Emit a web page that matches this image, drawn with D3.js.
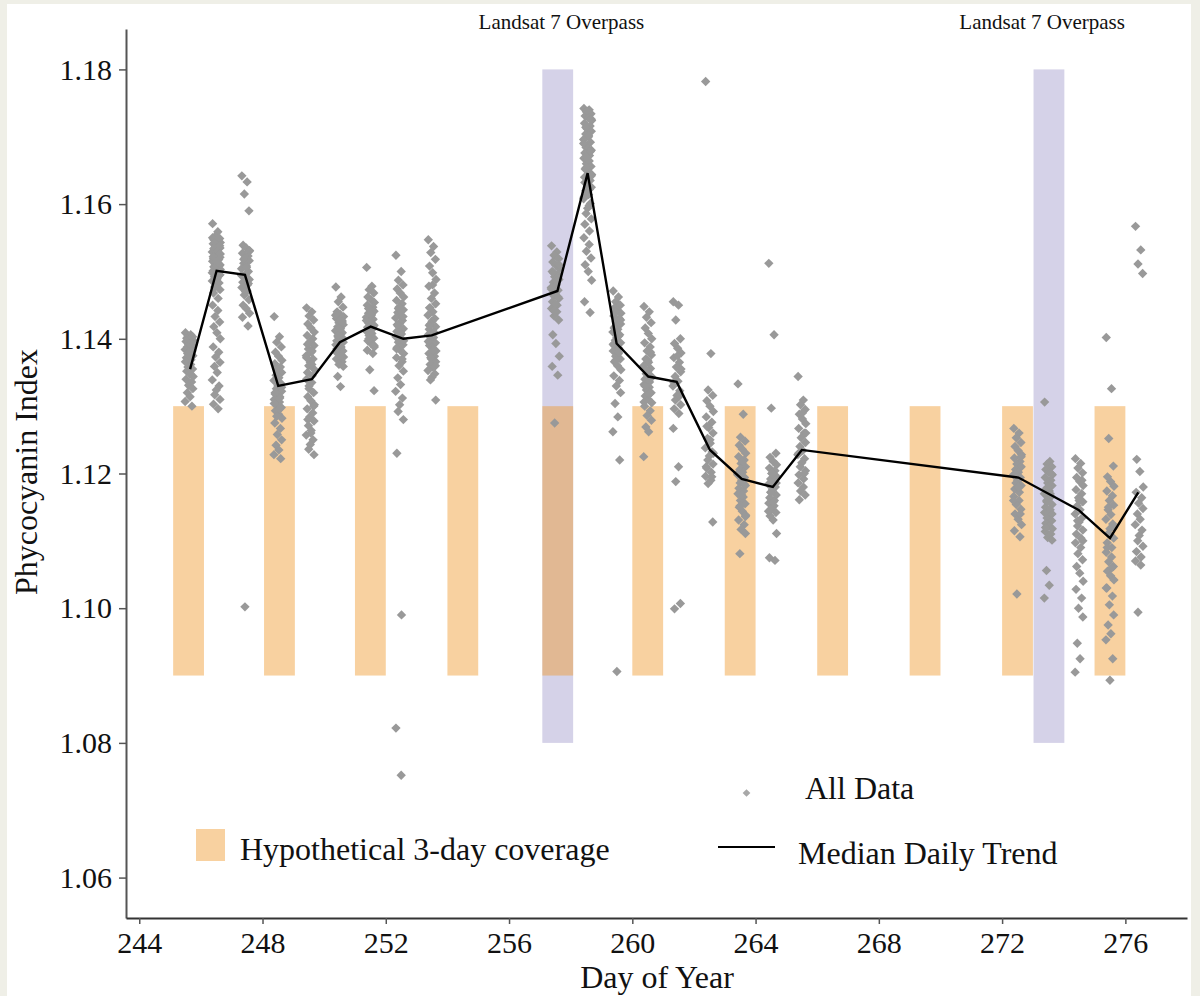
<!DOCTYPE html>
<html>
<head>
<meta charset="utf-8">
<script src="https://cdn.jsdelivr.net/npm/d3@7"></script>
<style>
  html, body { margin: 0; padding: 0; background: #efefe7; }
  svg { display: block; }
  text { font-family: "Liberation Serif", "Times New Roman", serif; fill: #111; }
</style>
</head>
<body>
<svg id="chart" width="1200" height="996"></svg>
<script>
// ---------------- DATA ----------------
const xTicks = [244, 248, 252, 256, 260, 264, 268, 272, 276];
const yTicks = [1.06, 1.08, 1.10, 1.12, 1.14, 1.16, 1.18];

// Hypothetical 3-day coverage windows (start day, 1 day long)
const coverageStarts = [245.1, 248.05, 251, 254, 257.08, 260, 263, 266, 269, 272, 275];
const coverageRange = [1.09, 1.13];

// Landsat 7 overpass days
const overpassStarts = [257.08, 273.02];
const overpassRange = [1.08, 1.18];
const overpassLabelDays = [257.7, 273.3];
const overpassLabel = "Landsat 7 Overpass";

// Median daily trend
const trendDays = [245.65, 246.51, 247.43, 248.51, 249.6, 250.51, 251.51, 252.57, 253.49,
                   257.57, 258.55, 259.49, 260.52, 261.44, 262.52, 263.55, 264.56, 265.5,
                   272.53, 274.48, 275.5, 276.42];
const trendValues = [1.1355, 1.1501, 1.1495, 1.1330, 1.1340, 1.1395, 1.1418, 1.1400, 1.1405,
                     1.1471, 1.1646, 1.1393, 1.1344, 1.1336, 1.1235, 1.1192, 1.1180, 1.1235,
                     1.1194, 1.1146, 1.1104, 1.1172];

// All data: acquisition day (cluster centre) and pixel values
const clusterDays = [245.62, 246.5, 247.45, 248.5, 249.55, 250.5, 251.5, 252.45, 253.5,
                     257.5, 258.55, 259.5, 260.5, 261.45, 262.5, 263.55, 264.55, 265.5,
                     272.5, 273.5, 274.5, 275.5, 276.45];
const clusterValues = [
  [1.1409,1.1406,1.1404,1.1403,1.1401,1.1399,1.1398,1.1396,1.1394,1.1392,1.1390,1.1388,1.1386,1.1384,1.1382,1.1380,1.1378,1.1375,1.1372,1.1369,1.1366,1.1362,1.1358,1.1355,1.1352,1.1348,1.1344,1.1340,1.1336,1.1331,1.1326,1.1320,1.1314,1.1307,1.1300],
  [1.1571,1.1559,1.1552,1.1549,1.1547,1.1545,1.1543,1.1541,1.1539,1.1537,1.1535,1.1533,1.1531,1.1529,1.1527,1.1525,1.1523,1.1521,1.1519,1.1517,1.1515,1.1513,1.1511,1.1509,1.1507,1.1505,1.1503,1.1501,1.1499,1.1497,1.1495,1.1492,1.1489,1.1486,1.1483,1.1480,1.1477,1.1473,1.1468,1.1460,1.1450,1.1442,1.1433,1.1425,1.1418,1.1409,1.1400,1.1388,1.1380,1.1373,1.1365,1.1359,1.1350,1.1339,1.1330,1.1324,1.1317,1.1310,1.1303,1.1296,
   1.1550,1.1546,1.1542,1.1538,1.1534,1.1530,1.1526,1.1522,1.1518,1.1514,1.1510,1.1506,1.1502,1.1498,1.1494,1.1490],
  [1.1642,1.1633,1.1615,1.1590,1.1539,1.1535,1.1531,1.1527,1.1523,1.1520,1.1516,1.1512,1.1508,1.1504,1.1500,1.1496,1.1492,1.1488,1.1484,1.1480,1.1476,1.1471,1.1465,1.1458,1.1450,1.1445,1.1438,1.1432,1.1419,1.1002,
   1.1530,1.1518,1.1506,1.1494,1.1482,1.1470],
  [1.1433,1.1403,1.1395,1.1388,1.1380,1.1374,1.1368,1.1363,1.1358,1.1354,1.1350,1.1346,1.1342,1.1338,1.1334,1.1330,1.1326,1.1322,1.1318,1.1314,1.1310,1.1306,1.1302,1.1298,1.1293,1.1288,1.1282,1.1275,1.1267,1.1258,1.1250,1.1242,1.1235,1.1228,1.1222,
   1.1345,1.1336,1.1328,1.1320,1.1312,1.1304,1.1296,1.1285],
  [1.1446,1.1440,1.1434,1.1428,1.1422,1.1416,1.1410,1.1405,1.1400,1.1395,1.1390,1.1385,1.1380,1.1375,1.1370,1.1365,1.1360,1.1355,1.1350,1.1345,1.1340,1.1335,1.1326,1.1320,1.1314,1.1308,1.1302,1.1296,1.1290,1.1284,1.1278,1.1271,1.1264,1.1257,1.1250,1.1243,1.1236,1.1228,
   1.1392,1.1382,1.1372,1.1362,1.1330,1.1300,1.1280,1.1260],
  [1.1477,1.1462,1.1455,1.1447,1.1440,1.1436,1.1433,1.1430,1.1427,1.1424,1.1421,1.1418,1.1415,1.1412,1.1409,1.1406,1.1403,1.1400,1.1397,1.1394,1.1391,1.1388,1.1385,1.1382,1.1379,1.1376,1.1373,1.1370,1.1366,1.1362,1.1359,1.1344,1.1329,
   1.1435,1.1425,1.1415,1.1405,1.1395,1.1385,1.1375],
  [1.1506,1.1478,1.1473,1.1468,1.1462,1.1458,1.1454,1.1450,1.1447,1.1444,1.1441,1.1438,1.1435,1.1432,1.1429,1.1426,1.1423,1.1420,1.1417,1.1414,1.1411,1.1408,1.1405,1.1401,1.1397,1.1393,1.1388,1.1383,1.1378,1.1354,1.1323,
   1.1445,1.1436,1.1427,1.1418,1.1409,1.1400,1.1390],
  [1.1524,1.1500,1.1487,1.1480,1.1474,1.1468,1.1462,1.1457,1.1452,1.1447,1.1443,1.1439,1.1435,1.1431,1.1427,1.1423,1.1419,1.1415,1.1411,1.1407,1.1403,1.1399,1.1395,1.1391,1.1387,1.1383,1.1378,1.1372,1.1366,1.1360,1.1352,1.1342,1.1332,1.1322,1.1312,1.1302,1.1292,1.1280,1.1230,1.0990,1.0822,1.0752,
   1.1445,1.1433,1.1421,1.1409,1.1397,1.1385,1.1370],
  [1.1547,1.1537,1.1528,1.1518,1.1508,1.1498,1.1488,1.1478,1.1468,1.1460,1.1452,1.1446,1.1440,1.1435,1.1430,1.1426,1.1422,1.1418,1.1414,1.1410,1.1406,1.1402,1.1398,1.1394,1.1390,1.1386,1.1382,1.1378,1.1374,1.1370,1.1366,1.1362,1.1358,1.1353,1.1348,1.1343,1.1339,1.1309,
   1.1420,1.1408,1.1396,1.1384,1.1372,1.1360,1.1446,1.1480],
  [1.1538,1.1529,1.1524,1.1519,1.1514,1.1509,1.1504,1.1500,1.1496,1.1492,1.1488,1.1484,1.1480,1.1476,1.1472,1.1468,1.1464,1.1460,1.1455,1.1450,1.1445,1.1440,1.1434,1.1428,1.1406,1.1393,1.1374,1.1359,1.1346,1.1275,
   1.1510,1.1498,1.1486,1.1474,1.1462,1.1452,1.1442],
  [1.1742,1.1740,1.1737,1.1734,1.1731,1.1728,1.1724,1.1720,1.1716,1.1712,1.1708,1.1704,1.1700,1.1696,1.1692,1.1688,1.1684,1.1680,1.1676,1.1672,1.1668,1.1664,1.1660,1.1656,1.1652,1.1648,1.1644,1.1640,1.1635,1.1630,1.1625,1.1620,1.1614,1.1608,1.1601,1.1594,1.1586,1.1578,1.1570,1.1560,1.1550,1.1540,1.1530,1.1520,1.1510,1.1500,1.1487,1.1455,1.1439,
   1.1738,1.1726,1.1714,1.1702,1.1690,1.1678,1.1666,1.1654,1.1642,1.1632,1.1622,1.1610,1.1598],
  [1.1471,1.1462,1.1455,1.1450,1.1446,1.1442,1.1438,1.1434,1.1430,1.1426,1.1422,1.1418,1.1414,1.1410,1.1406,1.1402,1.1398,1.1394,1.1390,1.1386,1.1382,1.1378,1.1374,1.1370,1.1366,1.1360,1.1354,1.1345,1.1338,1.1330,1.1320,1.1304,1.1284,1.1262,1.1220,1.0906,
   1.1440,1.1428,1.1416,1.1404,1.1392,1.1380,1.1368],
  [1.1448,1.1440,1.1432,1.1424,1.1416,1.1408,1.1400,1.1394,1.1388,1.1382,1.1376,1.1370,1.1365,1.1360,1.1356,1.1352,1.1348,1.1344,1.1340,1.1336,1.1332,1.1328,1.1324,1.1320,1.1315,1.1310,1.1305,1.1300,1.1293,1.1286,1.1279,1.1269,1.1262,1.1225,
   1.1380,1.1368,1.1354,1.1342,1.1330,1.1318,1.1306],
  [1.1455,1.1450,1.1428,1.1400,1.1393,1.1386,1.1379,1.1372,1.1365,1.1358,1.1351,1.1344,1.1337,1.1330,1.1323,1.1316,1.1309,1.1302,1.1296,1.1289,1.1267,1.1210,1.1188,1.1007,1.0999,
   1.1375,1.1355,1.1335,1.1315],
  [1.1782,1.1378,1.1324,1.1316,1.1308,1.1300,1.1292,1.1284,1.1276,1.1268,1.1260,1.1252,1.1245,1.1238,1.1232,1.1226,1.1220,1.1214,1.1208,1.1202,1.1196,1.1190,1.1185,1.1128,
   1.1270,1.1250,1.1230,1.1210,1.1195],
  [1.1333,1.1288,1.1254,1.1248,1.1242,1.1236,1.1230,1.1225,1.1220,1.1215,1.1210,1.1206,1.1202,1.1198,1.1194,1.1190,1.1186,1.1182,1.1178,1.1174,1.1170,1.1165,1.1160,1.1155,1.1150,1.1144,1.1138,1.1131,1.1124,1.1117,1.1111,1.1081,
   1.1218,1.1200,1.1184,1.1168,1.1152,1.1136],
  [1.1512,1.1406,1.1297,1.1230,1.1224,1.1218,1.1213,1.1208,1.1204,1.1200,1.1196,1.1192,1.1188,1.1184,1.1180,1.1176,1.1172,1.1168,1.1164,1.1160,1.1156,1.1152,1.1147,1.1142,1.1137,1.1131,1.1111,1.1075,1.1071,
   1.1200,1.1186,1.1172,1.1158,1.1144],
  [1.1344,1.1309,1.1302,1.1295,1.1288,1.1281,1.1274,1.1267,1.1260,1.1253,1.1246,1.1240,1.1234,1.1228,1.1222,1.1216,1.1210,1.1204,1.1198,1.1192,1.1186,1.1180,1.1174,1.1168,1.1161,
   1.1290,1.1260,1.1230,1.1200],
  [1.1267,1.1260,1.1253,1.1246,1.1240,1.1234,1.1228,1.1223,1.1218,1.1214,1.1210,1.1206,1.1202,1.1198,1.1194,1.1190,1.1186,1.1182,1.1177,1.1172,1.1166,1.1160,1.1154,1.1147,1.1140,1.1132,1.1124,1.1115,1.1106,1.1021,
   1.1225,1.1200,1.1180,1.1160,1.1140],
  [1.1306,1.1218,1.1214,1.1210,1.1206,1.1202,1.1198,1.1194,1.1190,1.1186,1.1182,1.1178,1.1174,1.1170,1.1166,1.1162,1.1158,1.1154,1.1150,1.1146,1.1142,1.1138,1.1134,1.1130,1.1126,1.1122,1.1118,1.1114,1.1110,1.1105,1.1101,1.1056,1.1034,1.1015,
   1.1200,1.1180,1.1160,1.1140,1.1120,1.1170],
  [1.1222,1.1215,1.1208,1.1201,1.1194,1.1188,1.1182,1.1176,1.1170,1.1164,1.1158,1.1152,1.1146,1.1140,1.1134,1.1128,1.1122,1.1116,1.1110,1.1104,1.1097,1.1090,1.1081,1.1072,1.1062,1.1052,1.1040,1.1028,1.1015,1.1000,1.0987,1.0948,1.0925,1.0905,
   1.1190,1.1160,1.1130,1.1100],
  [1.1402,1.1326,1.1252,1.1211,1.1195,1.1188,1.1181,1.1174,1.1167,1.1160,1.1153,1.1146,1.1139,1.1132,1.1125,1.1118,1.1111,1.1104,1.1097,1.1090,1.1083,1.1076,1.1069,1.1062,1.1055,1.1048,1.1042,1.1030,1.1018,1.1005,1.0990,1.0975,1.0962,1.0953,1.0925,1.0893,
   1.1150,1.1120,1.1090,1.1060,1.1030],
  [1.1567,1.1532,1.1511,1.1497,1.1221,1.1203,1.1180,1.1172,1.1164,1.1156,1.1148,1.1140,1.1132,1.1124,1.1116,1.1108,1.1100,1.1092,1.1084,1.1076,1.1070,1.1064,1.0994]
];
// acquisition-time offsets within a day (fraction of day), cycled per pixel
const timeOffsets = [-0.12, 0.05, -0.04, 0.11, -0.08, 0.02, 0.13, -0.10, 0.08, -0.02,
                     0.12, -0.06, 0.03, -0.13, 0.09, 0.0, -0.05, 0.12, -0.09, 0.06];

const legendItems = ["Hypothetical 3-day coverage", "All Data", "Median Daily Trend"];

// ---------------- CHART ----------------
const W = 1200, H = 996;
const svg = d3.select("#chart");

svg.append("rect").attr("x", 0).attr("y", 0).attr("width", W).attr("height", H).attr("fill", "#efefe7");
svg.append("rect").attr("x", 7).attr("y", 4).attr("width", 1184).attr("height", 992).attr("fill", "#ffffff");

const x = d3.scaleLinear().domain([243.57, 278]).range([126, 1187]);
const y = d3.scaleLinear().domain([1.054, 1.186]).range([918, 29]);

const purple = "#d5d2e8";
const orange = "rgb(240,153,44)";
const orangeOpacity = 0.45;
const gray = "#999999";

// overpass bars
svg.append("g").selectAll("rect").data(overpassStarts).join("rect")
  .attr("x", d => x(d)).attr("width", d => x(d + 1) - x(d))
  .attr("y", y(overpassRange[1])).attr("height", y(overpassRange[0]) - y(overpassRange[1]))
  .attr("fill", purple);

// coverage bars
svg.append("g").selectAll("rect").data(coverageStarts).join("rect")
  .attr("x", d => x(d)).attr("width", d => x(d + 1) - x(d))
  .attr("y", y(coverageRange[1])).attr("height", y(coverageRange[0]) - y(coverageRange[1]))
  .attr("fill", orange).attr("fill-opacity", orangeOpacity);

// points
const points = [];
clusterValues.forEach((vals, i) => {
  vals.forEach((v, j) => points.push({ day: clusterDays[i] + timeOffsets[j % timeOffsets.length], value: v }));
});
const diamond = d3.symbol().type(d3.symbolSquare).size(44);
svg.append("g").selectAll("path").data(points).join("path")
  .attr("d", diamond)
  .attr("transform", d => `translate(${x(d.day)},${y(d.value)}) rotate(45)`)
  .attr("fill", gray);

// median trend
const line = d3.line().x((d, i) => x(trendDays[i])).y(d => y(d));
svg.append("path").datum(trendValues)
  .attr("d", line).attr("fill", "none").attr("stroke", "#000").attr("stroke-width", 2.4)
  .attr("stroke-linejoin", "miter");

// axes
const yAxis = d3.axisLeft(y).tickValues(yTicks).tickFormat(d3.format(".2f")).tickSize(7).tickSizeOuter(0).tickPadding(7);
const gy = svg.append("g").attr("transform", "translate(126,0)").call(yAxis);
gy.select(".domain").attr("stroke", "#555").attr("stroke-width", 2);
gy.selectAll(".tick line").attr("stroke", "#555").attr("stroke-width", 1.5);
gy.selectAll(".tick text").attr("font-size", 30).attr("font-family", "Liberation Serif, serif").attr("fill", "#111");

const xAxis = d3.axisBottom(x).tickValues(xTicks).tickFormat(d3.format("d")).tickSize(6).tickSizeOuter(0).tickPadding(8);
const gx = svg.append("g").attr("transform", "translate(0,918)").call(xAxis);
gx.select(".domain").attr("stroke", "#333").attr("stroke-width", 2);
gx.selectAll(".tick line").attr("stroke", "#555").attr("stroke-width", 1.5);
gx.selectAll(".tick text").attr("font-size", 30).attr("font-family", "Liberation Serif, serif").attr("fill", "#111");

// axis titles
svg.append("text").attr("x", 657).attr("y", 988).attr("text-anchor", "middle")
  .attr("font-size", 32).text("Day of Year");
svg.append("text").attr("transform", "translate(37,472) rotate(-90)").attr("text-anchor", "middle")
  .attr("font-size", 32).text("Phycocyanin Index");

// overpass labels
svg.append("g").selectAll("text").data(overpassLabelDays).join("text")
  .attr("x", d => x(d)).attr("y", 29).attr("text-anchor", "middle")
  .attr("font-size", 21).text(overpassLabel);

// legend
const lg = svg.append("g");
lg.append("rect").attr("x", 196).attr("y", 829).attr("width", 29).attr("height", 32)
  .attr("fill", orange).attr("fill-opacity", orangeOpacity);
lg.append("text").attr("x", 240).attr("y", 860).attr("font-size", 32).text(legendItems[0]);

lg.append("path").attr("d", d3.symbol().type(d3.symbolSquare).size(30))
  .attr("transform", "translate(746.5,793) rotate(45)").attr("fill", "#a8a8a8");
lg.append("text").attr("x", 805).attr("y", 799).attr("font-size", 32).text(legendItems[1]);

lg.append("line").attr("x1", 718).attr("x2", 775).attr("y1", 847).attr("y2", 847)
  .attr("stroke", "#000").attr("stroke-width", 2);
lg.append("text").attr("x", 798).attr("y", 864).attr("font-size", 32).text(legendItems[2]);
</script>
</body>
</html>
